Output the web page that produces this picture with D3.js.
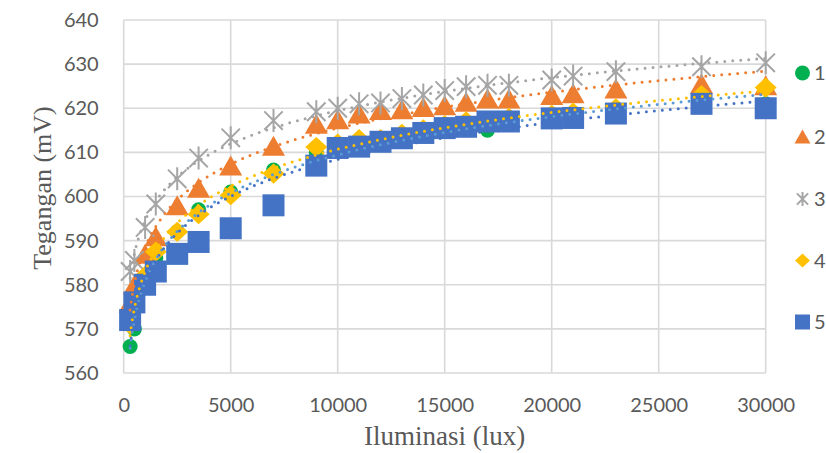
<!DOCTYPE html>
<html>
<head>
<meta charset="utf-8">
<script src="https://cdn.jsdelivr.net/npm/d3@7"></script>
<style>
  body { margin: 0; background: #fff; }
  text { fill: #595959; }
</style>
</head>
<body>
<div id="chart"></div>
<script>
// data
const lux = [300, 500, 1000, 1500, 2500, 3500, 5000, 7000, 9000, 10000, 11000, 12000, 13000, 14000, 15000, 16000, 17000, 18000, 20000, 21000, 23000, 27000, 30000];
const seri1 = [566, 570, 580, 586, 592, 597, 601, 606, 610, 611, 612, 612.5, 613, 614, 615, 615.5, 615, 616.5, 617.5, 618, 619, 621, 621];
const seri2 = [576, 580, 587, 591, 598, 602, 607, 611.5, 616.5, 617.5, 618.8, 619.6, 619.8, 620.3, 620.7, 621.5, 622.2, 622.2, 623, 623.4, 624.5, 625.6, 625.2];
const seri3 = [583, 585.5, 593, 598.3, 604, 608.7, 613.3, 617.2, 619.2, 620, 621, 621.2, 622.2, 623, 624, 624.9, 625.2, 625.2, 626.4, 627.3, 628.3, 629.4, 630.3];
const seri4 = [571, 575, 582, 587.5, 592, 596, 600.3, 605.2, 611.2, 612, 613, 613, 614.2, 615.2, 616.2, 617, 617.2, 617.8, 618.5, 619, 620, 623, 624.7];
const seri5 = [572, 576, 580, 583, 587, 589.7, 592.8, 598, 607, 611, 611.3, 612.4, 613.2, 614.4, 615.5, 615.8, 617, 617, 617.7, 617.8, 618.8, 621, 620];
const names = ["1", "2", "3", "4", "5"];
const xTicks = [0, 5000, 10000, 15000, 20000, 25000, 30000];
const yTicks = [560, 570, 580, 590, 600, 610, 620, 630, 640];

const width = 826, height = 453;
let svg = d3.select("#chart").append("svg")
  .attr("width", width)
  .attr("height", height);

let x = d3.scaleLinear().domain([0, 30000]).range([123.7, 765.7]);
let y = d3.scaleLinear().domain([560, 640]).range([373, 20]);

// grid
let grid = svg.append("g");
grid.selectAll(".gy").data(yTicks).enter().append("line")
  .attr("x1", x(0)).attr("x2", x(30000))
  .attr("y1", d => y(d)).attr("y2", d => y(d))
  .attr("stroke", "#d9d9d9").attr("stroke-width", 1.6);
grid.selectAll(".gx").data(xTicks).enter().append("line")
  .attr("y1", y(560)).attr("y2", y(640))
  .attr("x1", d => x(d)).attr("x2", d => x(d))
  .attr("stroke", "#d9d9d9").attr("stroke-width", 1.6);

// axes (labels only, lines are the grid)
let xAxis = svg.append("g").attr("transform", `translate(0,${y(560) + 22})`)
  .call(d3.axisBottom(x).tickValues(xTicks).tickSize(0).tickFormat(d3.format("d")));
xAxis.select(".domain").remove();
xAxis.selectAll("text").attr("font-family", "Lato").attr("font-size", 20).attr("fill", "#595959");

let yAxis = svg.append("g").attr("transform", `translate(${x(0) - 22},0)`)
  .call(d3.axisLeft(y).tickValues(yTicks).tickSize(0));
yAxis.select(".domain").remove();
yAxis.selectAll("text").attr("font-family", "Lato").attr("font-size", 20).attr("fill", "#595959").attr("dx", 0);

// titles
svg.append("text").attr("x", (x(0) + x(30000)) / 2).attr("y", 445)
  .attr("text-anchor", "middle").attr("font-family", "Liberation Serif").attr("font-size", 27)
  .text("Iluminasi (lux)");
svg.append("text").attr("transform", "translate(51,188) rotate(-90)")
  .attr("text-anchor", "middle").attr("font-family", "Liberation Serif").attr("font-size", 26)
  .text("Tegangan (mV)");

// marker shapes, s = size of the box
function circlePath(s) { let r = s / 2; return `M${-r},0A${r},${r} 0 1,0 ${r},0A${r},${r} 0 1,0 ${-r},0Z`; }
function triPath(s) { let h = s * 0.87; return `M0,${-h / 2}L${s / 2},${h / 2}L${-s / 2},${h / 2}Z`; }
function starPath(s) { let r = s / 2, q = r * 0.8; return `M${-q},${-q}L${q},${q}M${-q},${q}L${q},${-q}M0,${-r}L0,${r}`; }
function diaPath(s) { let w = s / 2, h = s * 0.46; return `M0,${-h}L${w},0L0,${h}L${-w},0Z`; }
function sqPath(s) { let r = s / 2; return `M${-r},${-r}H${r}V${r}H${-r}Z`; }

const series = [
  { name: names[0], vals: seri1, col: "#00b050", trend: "#5b9bd5", shape: circlePath, size: 15, legSize: 15 },
  { name: names[1], vals: seri2, col: "#ed7d31", trend: "#ed7d31", shape: triPath, size: 23, legSize: 16 },
  { name: names[2], vals: seri3, col: "#a5a5a5", trend: "#a5a5a5", shape: starPath, size: 23, legSize: 14, stroke: true },
  { name: names[3], vals: seri4, col: "#ffc000", trend: "#ffc000", shape: diaPath, size: 22, legSize: 15 },
  { name: names[4], vals: seri5, col: "#4472c4", trend: "#4472c4", shape: sqPath, size: 22, legSize: 15 }
];

function paint(sel, s) {
  if (s.stroke) sel.attr("fill", "none").attr("stroke", s.col).attr("stroke-width", 2);
  else sel.attr("fill", s.col);
}

// markers
series.forEach(s => {
  let g = svg.append("g");
  let pts = g.selectAll("path").data(lux.map((l, i) => [l, s.vals[i]])).enter().append("path")
    .attr("d", s.shape(s.size))
    .attr("transform", d => `translate(${x(d[0])},${y(d[1])})`);
  paint(pts, s);
});

// logarithmic trend lines, least squares on ln(x)
function logFit(xs, ys) {
  let lx = xs.map(Math.log);
  let mx = d3.mean(lx), my = d3.mean(ys);
  let a = d3.sum(lx, (v, i) => (v - mx) * (ys[i] - my)) / d3.sum(lx, v => (v - mx) * (v - mx));
  return { a: a, b: my - a * mx };
}
let line = d3.line().x(d => x(d[0])).y(d => y(d[1]));
series.forEach(s => {
  let f = logFit(lux, s.vals);
  let xs = d3.range(0, 201).map(i => lux[0] * Math.pow(30000 / lux[0], i / 200));
  svg.append("path")
    .datum(xs.map(v => [v, f.a * Math.log(v) + f.b]))
    .attr("d", line)
    .attr("fill", "none")
    .attr("stroke", s.trend)
    .attr("stroke-width", 3)
    .attr("stroke-linecap", "round")
    .attr("stroke-dasharray", "0 8");
});

// legend
let leg = svg.append("g");
const legY = [73, 136.5, 199, 260.5, 322];
series.forEach((s, i) => {
  let m = leg.append("path").attr("d", s.shape(s.legSize))
    .attr("transform", `translate(802.5,${legY[i]})`);
  paint(m, s);
  leg.append("text").attr("x", 814).attr("y", legY[i]).attr("dy", "0.35em")
    .attr("font-family", "Lato").attr("font-size", 20).text(s.name);
});
</script>
</body>
</html>
